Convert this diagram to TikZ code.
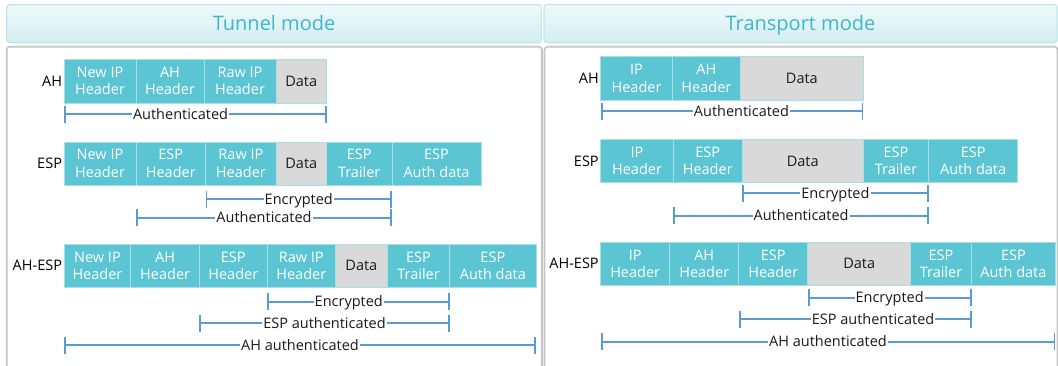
\documentclass[tikz,border=0pt]{standalone}
\usepackage{fontspec}
\setmainfont{Open Sans}
\usetikzlibrary{arrows.meta}

\definecolor{cellcyan}{HTML}{5BC5D3}
\definecolor{cellline}{HTML}{A8DFE7}
\definecolor{datagray}{HTML}{D9D9D9}
\definecolor{textdark}{HTML}{1A1A1A}
\definecolor{measblue}{HTML}{5B9BD5}
\definecolor{titlecyan}{HTML}{3DB7C9}
\definecolor{headtop}{HTML}{EEF9FA}
\definecolor{headbot}{HTML}{D3EEF2}
\definecolor{headline}{HTML}{C2E6EC}
\definecolor{panelline}{HTML}{C4C4C4}

% one packet field: style, name, x-left, x-right, y-top, y-bottom, text
\newcommand\field[7]{%
  \node[#1, minimum width={(#4-#3)*1pt}, minimum height={(#6-#5)*1pt}]
    (#2) at ({(#3+#4)/2},{(#5+#6)/2}) {#7};}

\begin{document}
\begin{tikzpicture}[x=1pt,y=-1pt,
  every node/.style={inner sep=0pt, outer sep=0pt, font=\fontsize{14.5}{17.5}\selectfont},
  cell/.style={draw=cellline, line width=1pt, fill=cellcyan, text=white, align=center},
  datacell/.style={draw=cellline, line width=1pt, fill=datagray, text=textdark, align=center},
  headbox/.style={draw=headline, line width=1.2pt, rounded corners=3pt,
    top color=headtop, bottom color=headbot, text=titlecyan,
    text height=14pt, text depth=0pt,
    font=\fontsize{20}{22}\selectfont},
  panel/.style={draw=panelline, line width=1.6pt, fill=white, rounded corners=3pt},
  rowlbl/.style={anchor=east, text=black},
  meas/.style={draw=measblue, line width=1.8pt,
    {Bar[width=17pt,line width=1.8pt]}-{Bar[width=17pt,line width=1.8pt]}},
  mlbl/.style={fill=white, inner xsep=1pt, inner ysep=1pt, text=textdark,
    text height=10.4pt, text depth=0.4pt}]

\useasboundingbox (0,0) rectangle (1058,365);
\clip (0,0) rectangle (1058,365);

% panel frames and title bars
\draw[panel] (6.7,46.7) rectangle (542,420);
\draw[panel] (544.5,46.7) rectangle (1057.5,420);
\field{headbox}{hL}{6.7}{541.5}{4.7}{42.7}{Tunnel mode}
\field{headbox}{hR}{544}{1057}{4.7}{42.7}{Transport mode}

% ---------------- tunnel mode ----------------
% AH
\field{cell}{tA1}{64}{136}{59}{103}{New IP\\Header}
\field{cell}{tA2}{136}{204}{59}{103}{AH\\Header}
\field{cell}{tA3}{204}{276}{59}{103}{Raw IP\\Header}
\field{datacell}{tA4}{276}{326.5}{59}{103}{Data}
\node[rowlbl] (ltA) at ([xshift=-2pt]tA1.west) {AH};
\draw[meas] (tA1.south west |- 0,114.3) -- node[mlbl, pos=0.444]{Authenticated} (tA4.south east |- 0,114.3);

% ESP
\field{cell}{tE1}{64}{136}{142}{185}{New IP\\Header}
\field{cell}{tE2}{136}{205.6}{142}{185}{ESP\\Header}
\field{cell}{tE3}{205.6}{276.2}{142}{185}{Raw IP\\Header}
\field{datacell}{tE4}{276.2}{326.4}{142}{185}{Data}
\field{cell}{tE5}{326.4}{392}{142}{185}{ESP\\Trailer}
\field{cell}{tE6}{392}{481}{142}{185}{ESP\\Auth data}
\node[rowlbl] (ltE) at ([xshift=-2pt]tE1.west) {ESP};
\draw[meas] (tE3.south west |- 0,199) -- node[mlbl]{Encrypted} (tE5.south east |- 0,199);
\draw[meas] (tE2.south west |- 0,217.7) -- node[mlbl]{Authenticated} (tE5.south east |- 0,217.7);

% AH-ESP
\field{cell}{tB1}{64}{130.9}{244.3}{287.3}{New IP\\Header}
\field{cell}{tB2}{130.9}{199.4}{244.3}{287.3}{AH\\Header}
\field{cell}{tB3}{199.4}{267.2}{244.3}{287.3}{ESP\\Header}
\field{cell}{tB4}{267.2}{335.4}{244.3}{287.3}{Raw IP\\Header}
\field{datacell}{tB5}{335.4}{387.4}{244.3}{287.3}{Data}
\field{cell}{tB6}{387.4}{449.7}{244.3}{287.3}{ESP\\Trailer}
\field{cell}{tB7}{449.7}{536}{244.3}{287.3}{ESP\\Auth data}
\node[rowlbl] (ltB) at ([xshift=-2pt]tB1.west) {AH-ESP};
\draw[meas] (tB4.south west |- 0,301.7) -- node[mlbl, pos=0.447]{Encrypted} (tB6.south east |- 0,301.7);
\draw[meas] (tB3.south west |- 0,323.3) -- node[mlbl]{ESP authenticated} (tB6.south east |- 0,323.3);
\draw[meas] (tB1.south west |- 0,345) -- node[mlbl]{AH authenticated} (tB7.south east |- 0,345);

% ---------------- transport mode ----------------
% AH
\field{cell}{rA1}{600.7}{672.4}{56.7}{100}{IP\\Header}
\field{cell}{rA2}{672.4}{740.4}{56.7}{100}{AH\\Header}
\field{datacell}{rA3}{740.4}{863.3}{56.7}{100}{Data}
\node[rowlbl] (lrA) at ([xshift=-2pt]rA1.west) {AH};
\draw[meas] (rA1.south west |- 0,111) -- node[mlbl, pos=0.536]{Authenticated} (rA3.south east |- 0,111);

% ESP
\field{cell}{rE1}{600.7}{673.4}{139.3}{182.7}{IP\\Header}
\field{cell}{rE2}{673.4}{742.1}{139.3}{182.7}{ESP\\Header}
\field{datacell}{rE3}{742.1}{863.3}{139.3}{182.7}{Data}
\field{cell}{rE4}{863.3}{928.8}{139.3}{182.7}{ESP\\Trailer}
\field{cell}{rE5}{928.8}{1017.5}{139.3}{182.7}{ESP\\Auth data}
\node[rowlbl] (lrE) at ([xshift=-2pt]rE1.west) {ESP};
\draw[meas] (rE3.south west |- 0,193.3) -- node[mlbl]{Encrypted} (rE4.south east |- 0,193.3);
\draw[meas] (rE2.south west |- 0,215.7) -- node[mlbl]{Authenticated} (rE4.south east |- 0,215.7);

% AH-ESP
\field{cell}{rB1}{600.7}{669.7}{242.3}{285.3}{IP\\Header}
\field{cell}{rB2}{669.7}{738.8}{242.3}{285.3}{AH\\Header}
\field{cell}{rB3}{738.8}{807.8}{242.3}{285.3}{ESP\\Header}
\field{datacell}{rB4}{807.8}{910.5}{242.3}{285.3}{Data}
\field{cell}{rB5}{910.5}{971.5}{242.3}{285.3}{ESP\\Trailer}
\field{cell}{rB6}{971.5}{1055.3}{242.3}{285.3}{ESP\\Auth data}
\node[rowlbl] (lrB) at ([xshift=-2pt]rB1.west) {AH-ESP};
\draw[meas] (rB4.south west |- 0,297.7) -- node[mlbl]{Encrypted} (rB5.south east |- 0,297.7);
\draw[meas] (rB3.south west |- 0,319.3) -- node[mlbl, pos=0.577]{ESP authenticated} (rB5.south east |- 0,319.3);
\draw[meas] (rB1.south west |- 0,341.7) -- node[mlbl]{AH authenticated} (rB6.south east |- 0,341.7);

\end{tikzpicture}
\end{document}
